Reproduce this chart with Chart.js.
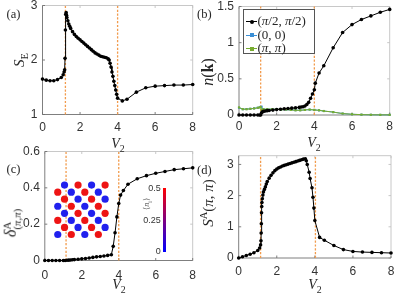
<!DOCTYPE html>
<html><head><meta charset="utf-8">
<script src="https://cdn.jsdelivr.net/npm/chart.js@4.4.1/dist/chart.umd.min.js"></script>
<style>
html,body{margin:0;padding:0;background:#fff;}
body{width:397px;height:297px;position:relative;overflow:hidden;font-family:'Liberation Serif',serif;}
canvas{position:absolute;}
.t{position:absolute;white-space:nowrap;color:#262626;line-height:1;font-family:'Liberation Serif',serif;}
.rot{transform:translate(-50%,-50%) rotate(-90deg);}
.ctr{transform:translate(-50%,-50%);}
sub,sup{font-size:70%;line-height:0;}
.ss{display:inline-block;vertical-align:middle;line-height:0.95;font-size:68%;text-align:left;}
#leg{position:absolute;left:243px;top:9px;width:70px;height:43px;border:1px solid #555;background:#fff;z-index:5;}
.lr{position:absolute;left:0;width:70px;height:14px;}
.ll{position:absolute;left:2px;top:7px;width:11px;height:1px;}
.lm{position:absolute;left:5.5px;top:5.5px;width:4px;height:4px;}
.lt{position:absolute;left:13.5px;top:0px;font-size:13px;line-height:14px;color:#262626;font-family:'Liberation Serif',serif;}
#cbar{position:absolute;left:162.7px;top:187.5px;width:3.5px;height:64px;background:linear-gradient(to bottom,#ff0000,#0000ff);z-index:4;}
.cl{position:absolute;font-family:'Liberation Sans',sans-serif;font-size:9px;color:#333;transform:translate(-100%,-50%);line-height:1;z-index:4;}
</style></head><body>

<canvas id="ca" width="198" height="138" style="left:0;top:0"></canvas>
<canvas id="cb" width="200" height="138" style="left:197px;top:0"></canvas>
<canvas id="cc" width="198" height="140" style="left:0;top:143px"></canvas>
<canvas id="cd" width="200" height="140" style="left:197px;top:143px"></canvas>
<canvas id="cl" width="69" height="72" style="left:47px;top:174px;z-index:3"></canvas>

<div class="t" style="left:6.5px;top:8px;font-size:12.5px;">(a)</div>
<div class="t" style="left:197px;top:8px;font-size:12.5px;">(b)</div>
<div class="t" style="left:6.5px;top:162.5px;font-size:12.5px;">(c)</div>
<div class="t" style="left:197px;top:164px;font-size:12.5px;">(d)</div>

<div class="t ctr" style="left:118px;top:144px;font-size:14px;"><i>V</i><sub>2</sub></div>
<div class="t ctr" style="left:314px;top:143px;font-size:14px;"><i>V</i><sub>2</sub></div>
<div class="t ctr" style="left:119px;top:285px;font-size:14px;"><i>V</i><sub>2</sub></div>
<div class="t ctr" style="left:315px;top:285px;font-size:14px;"><i>V</i><sub>2</sub></div>

<div class="t rot" style="left:19px;top:60px;font-size:15px;"><i>S</i><sub>E</sub></div>
<div class="t rot" style="left:208px;top:72px;font-size:16px;"><i>n</i>(<b>k</b>)</div>
<div class="t rot" style="left:12px;top:223px;font-size:16px;"><i>δ</i><span class="ss">A<br>(<i>π</i>,<i>π</i>)</span></div>
<div class="t rot" style="left:208px;top:203px;font-size:15px;"><i>S</i><sup>A</sup>(<i>π</i>, <i>π</i>)</div>

<div id="leg">
  <div class="lr" style="top:4px"><div class="ll" style="background:#000"></div><div class="lm" style="background:#000;border-radius:50%"></div><div class="lt">(<i>π</i>/2, <i>π</i>/2)</div></div>
  <div class="lr" style="top:17.5px"><div class="ll" style="background:#3a8fd6"></div><div class="lm" style="background:#3a8fd6"></div><div class="lt">(0, 0)</div></div>
  <div class="lr" style="top:31px"><div class="ll" style="background:#77ac30"></div><div class="lm" style="background:#77ac30"></div><div class="lt">(<i>π</i>, <i>π</i>)</div></div>
</div>

<div id="cbar"></div>
<div class="cl" style="left:160.7px;top:188px">0.5</div>
<div class="cl" style="left:160.7px;top:219.5px">0.25</div>
<div class="cl" style="left:160.7px;top:250.5px">0</div>
<div class="t rot" style="left:147px;top:204px;font-size:8px;color:#555;z-index:4">⟨<i>n</i><sub>i</sub>⟩</div>

<script>
// ---------- DATA ----------
const xTicks = [0, 2, 4, 6, 8];

// (a) entanglement entropy S_E
const aV2 = [0,0.2,0.4,0.6,0.8,1.0,1.1,1.15,1.18,1.2,1.22,1.24,1.26,1.28,1.3,1.35,1.4,1.45,1.5,1.6,1.7,1.8,1.9,2.0,2.1,2.2,2.3,2.4,2.5,2.6,2.7,2.8,2.9,3.0,3.1,3.2,3.3,3.4,3.5,3.55,3.6,3.65,3.7,3.75,3.8,3.85,3.9,3.95,4.0,4.25,4.5,5.0,5.5,6.0,6.5,7.0,7.5,8.0];
const aSE = [1.65,1.63,1.62,1.62,1.64,1.68,1.73,1.78,1.82,2.03,2.55,2.84,2.87,2.82,2.78,2.72,2.66,2.62,2.58,2.52,2.47,2.43,2.40,2.37,2.34,2.31,2.28,2.25,2.22,2.19,2.16,2.13,2.11,2.09,2.07,2.06,2.05,2.04,2.02,2.00,1.94,1.87,1.78,1.70,1.61,1.53,1.45,1.37,1.30,1.25,1.28,1.41,1.49,1.52,1.53,1.54,1.54,1.55];
const aYTicks = [1, 2, 3];
const aPhase = [1.22, 4.0];

// (b) momentum distribution n(k)
const bV2 = [0,0.2,0.4,0.6,0.8,1.0,1.1,1.15,1.2,1.25,1.3,1.4,1.5,1.6,1.8,2.0,2.2,2.4,2.6,2.8,3.0,3.2,3.3,3.4,3.5,3.6,3.7,3.8,3.9,4.0,4.05,4.25,4.5,5.0,5.5,6.0,6.5,7.0,7.5,8.0];
const bHalfPi = [0,0,0,0,0,0,0,0,0.03,0.045,0.05,0.055,0.06,0.063,0.068,0.075,0.08,0.085,0.09,0.095,0.1,0.105,0.11,0.115,0.125,0.145,0.175,0.23,0.29,0.35,0.44,0.58,0.68,0.93,1.14,1.25,1.32,1.37,1.42,1.46];
const bV2b = [0,0.2,0.4,0.6,0.8,1.0,1.1,1.15,1.2,1.25,1.3,1.5,1.75,2.0,2.25,2.5,2.75,3.0,3.25,3.5,3.75,4.0,4.25,4.5,5.0,5.5,6.0,6.5,7.0,7.5,8.0];
const bZero = [0.10,0.08,0.082,0.086,0.092,0.1,0.106,0.112,0.115,0.075,0.078,0.08,0.08,0.079,0.076,0.074,0.07,0.066,0.066,0.07,0.074,0.07,0.064,0.055,0.04,0.02,0.01,0.005,0.003,0.002,0.002];
const bPiPi = [0.105,0.08,0.08,0.085,0.09,0.1,0.105,0.11,0.07,0.075,0.08,0.08,0.08,0.08,0.075,0.075,0.07,0.065,0.065,0.07,0.075,0.07,0.065,0.055,0.04,0.02,0.01,0.005,0.003,0.002,0.002];
const bYTicks = [0, 0.5, 1, 1.5];
const bPhase = [1.15, 4.0];

// (c) CDW order parameter delta^A(pi,pi)
const cV2 = [0,0.2,0.4,0.6,0.8,1.0,1.1,1.2,1.3,1.4,1.5,1.6,1.8,2.0,2.2,2.4,2.6,2.8,3.0,3.2,3.4,3.6,3.7,3.8,3.9,4.0,4.1,4.25,4.5,5.0,5.5,6.0,6.5,7.0,7.5,8.0];
const cDelta = [0,0,0,0,0,0,0,0.001,0.002,0.003,0.004,0.005,0.007,0.009,0.011,0.014,0.017,0.02,0.022,0.025,0.028,0.032,0.078,0.153,0.24,0.314,0.36,0.385,0.42,0.45,0.467,0.48,0.49,0.5,0.505,0.51];
const cYTicks = [0, 0.2, 0.4, 0.6];
const cPhase = [1.15, 4.0];

// (d) structure factor S^A(pi,pi)
const dV2 = [0,0.2,0.4,0.6,0.8,1.0,1.1,1.15,1.17,1.18,1.19,1.2,1.21,1.22,1.24,1.27,1.3,1.35,1.4,1.45,1.5,1.6,1.7,1.8,1.9,2.0,2.1,2.2,2.3,2.4,2.5,2.6,2.7,2.8,2.9,3.0,3.1,3.2,3.3,3.4,3.5,3.55,3.6,3.7,3.75,3.85,3.9,3.95,4.0,4.25,4.5,5.0,5.5,6.0,6.5,7.0,7.5,8.0];
const dSA = [0,0.04,0.08,0.12,0.17,0.24,0.32,0.42,0.55,0.8,1.1,1.45,1.65,1.78,1.9,2.02,2.12,2.2,2.28,2.37,2.45,2.56,2.65,2.73,2.8,2.85,2.89,2.92,2.95,2.97,2.99,3.01,3.03,3.05,3.07,3.09,3.11,3.13,3.15,3.17,3.18,3.12,3.0,2.75,2.55,2.25,1.95,1.6,1.2,0.66,0.57,0.4,0.27,0.21,0.19,0.18,0.17,0.16];
const dYTicks = [0, 1, 2, 3];
const dPhase = [1.15, 4.03];

// inset lattice: site occupation pattern (R = high density, B = low density)
const latticeRows = ["BRBR","RBRB","RBRB","BRBR","BRBR","RBRB","RBRB","BRBR"];

// ---------- DRAWING ----------
const TICKFONT = {family:"'Liberation Sans', Arial, sans-serif", size:12};
const framePlugin = {
  id:'frame',
  beforeDatasetsDraw(chart){
    const {ctx, chartArea:a, scales:{x,y}} = chart;
    ctx.save();
    ctx.lineWidth = 0.9;
    ctx.strokeStyle = '#c2c2c2';
    ctx.beginPath();
    ctx.moveTo(a.left, a.top); ctx.lineTo(a.right, a.top); ctx.lineTo(a.right, a.bottom);
    x.ticks.forEach(t=>{const p=x.getPixelForValue(t.value); ctx.moveTo(p,a.top); ctx.lineTo(p,a.top+2.5);});
    y.ticks.forEach(t=>{const p=y.getPixelForValue(t.value); ctx.moveTo(a.right,p); ctx.lineTo(a.right-2.5,p);});
    ctx.stroke();
    ctx.strokeStyle = '#707070';
    ctx.beginPath();
    ctx.moveTo(a.left, a.top); ctx.lineTo(a.left, a.bottom); ctx.lineTo(a.right, a.bottom);
    x.ticks.forEach(t=>{const p=x.getPixelForValue(t.value); ctx.moveTo(p,a.bottom); ctx.lineTo(p,a.bottom-2.5);});
    y.ticks.forEach(t=>{const p=y.getPixelForValue(t.value); ctx.moveTo(a.left,p); ctx.lineTo(a.left+2.5,p);});
    ctx.stroke();
    ctx.restore();
  }
};

function pts(xs, ys){ return xs.map((v,i)=>({x:v, y:ys[i]})); }
function phaseSets(ph, ymin, ymax){
  return ph.map(v=>({data:[{x:v,y:ymin},{x:v,y:ymax}], showLine:true, borderColor:'#f29b4c', borderWidth:1.3, borderDash:[2.2,1.6], pointRadius:0, order:10, clip:false}));
}
function line(data, color, style){
  return {data, showLine:true, borderColor:color, backgroundColor:color, borderWidth:1, pointRadius:1.8, pointStyle:style||'circle', pointBorderWidth:0, clip:false, tension:0};
}

function panel(id, cx, cy, cw, ch, L, T, R, B, ymin, ymax, yticks, xpad, datasets, yfmt){
  const yw = L - cx, xh = cy + ch - B;
  new Chart(document.getElementById(id), {
    type:'scatter',
    data:{datasets},
    plugins:[framePlugin],
    options:{
      responsive:false, animation:false, events:[],
      layout:{padding:{top:T-cy, right:cx+cw-R, left:0, bottom:0}},
      plugins:{legend:{display:false}, tooltip:{enabled:false}},
      scales:{
        x:{type:'linear', min:0, max:8, grid:{display:false, drawTicks:false}, border:{display:false},
           afterBuildTicks:s=>{s.ticks = xTicks.map(v=>({value:v}));},
           afterFit:s=>{s.height = xh; s.paddingLeft=0; s.paddingRight=0;},
           ticks:{font:TICKFONT, color:'#333', padding:xpad, maxRotation:0, callback:v=>String(v)}},
        y:{type:'linear', min:ymin, max:ymax, grid:{display:false, drawTicks:false}, border:{display:false},
           afterBuildTicks:s=>{s.ticks = yticks.map(v=>({value:v}));},
           afterFit:s=>{s.width = yw; s.paddingTop=0; s.paddingBottom=0;},
           ticks:{font:TICKFONT, color:'#333', padding:5, callback:yfmt||(v=>String(v))}}
      }
    }
  });
}

panel('ca', 0, 0, 198, 138, 42.5, 5.5, 192.7, 114.5, 1, 3, aYTicks, 5.5,
  [line(pts(aV2, aSE), '#000'), ...phaseSets(aPhase, 1, 3)]);

const bBlack = line(pts(bV2, bHalfPi), '#000'); bBlack.order = 0;
const bBlue = line(pts(bV2b, bZero), '#3a8fd6', 'rect'); bBlue.order = 2; bBlue.pointRadius = 1.5;
const bGreen = line(pts(bV2b, bPiPi), '#77ac30', 'rect'); bGreen.order = 1; bGreen.pointRadius = 1.5;
panel('cb', 197, 0, 200, 138, 239, 6.5, 389.7, 115, 0, 1.5, bYTicks, 4.5,
  [bBlack, bBlue, bGreen, ...phaseSets(bPhase, 0, 1.5)]);

panel('cc', 0, 143, 198, 140, 44.8, 151.5, 192.7, 260.5, 0, 0.6, cYTicks, 8,
  [line(pts(cV2, cDelta), '#000'), ...phaseSets(cPhase, 0, 0.6)]);

panel('cd', 197, 143, 200, 140, 238.7, 155.7, 391, 258, 0, 3.28, dYTicks, 6.5,
  [line(pts(dV2, dSA), '#000'), ...phaseSets(dPhase, 0, 3.28)]);

// inset lattice
const redSites = [], blueSites = [];
latticeRows.forEach((row, r)=>{
  const off = (r % 2 === 0) ? 1 : 0;
  row.split('').forEach((c, k)=>{
    const site = {x: off + 2*k, y: r};
    (c === 'R' ? redSites : blueSites).push(site);
  });
});
new Chart(document.getElementById('cl'), {
  type:'scatter',
  data:{datasets:[
    {data:redSites, backgroundColor:'#ee1414', pointRadius:3.6, pointBorderWidth:0},
    {data:blueSites, backgroundColor:'#2020ee', pointRadius:3.6, pointBorderWidth:0}
  ]},
  options:{responsive:false, animation:false, events:[],
    layout:{padding:0},
    plugins:{legend:{display:false}, tooltip:{enabled:false}},
    scales:{x:{display:false, min:-1, max:8.02}, y:{display:false, min:-1, max:8.06, reverse:true}}}
});
</script>
</body></html>
